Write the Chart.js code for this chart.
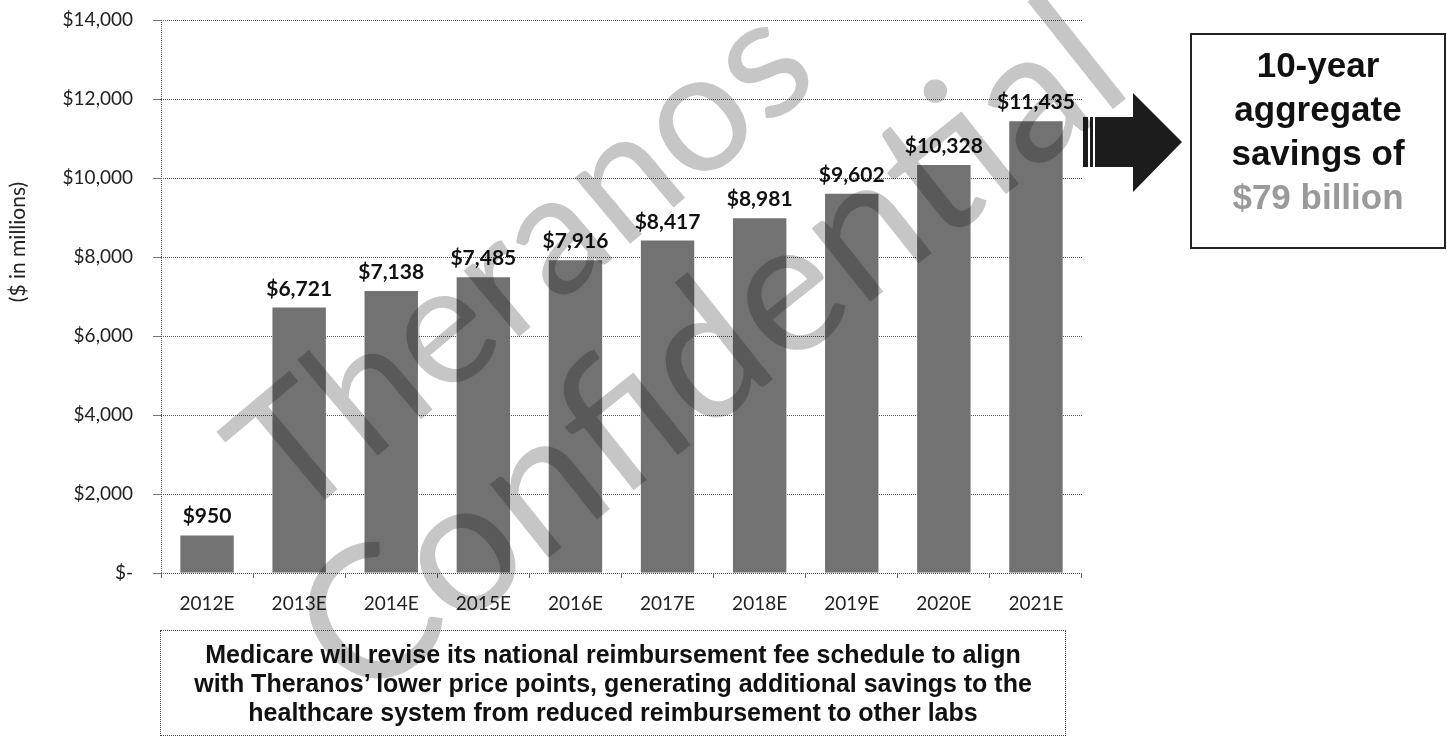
<!DOCTYPE html>
<html>
<head>
<meta charset="utf-8">
<script src="https://cdn.jsdelivr.net/npm/chart.js@4.4.1/dist/chart.umd.min.js"></script>
<style>
    body { margin: 0; background: #fff; }
    #wrap { position: relative; width: 1447px; height: 738px; overflow: hidden; }
    #chart { position: absolute; left: 0; top: 0; }
    .note {
        position: absolute;
        box-sizing: border-box;
        text-align: center;
        font-family: "Liberation Sans", Arial, sans-serif;
        font-weight: bold;
        color: #111;
    }
    #savingsBox {
        left: 1190px; top: 33px; width: 256px; height: 216px;
        border: 2px solid #222;
        font-size: 35px; line-height: 44px; padding-top: 8px;
    }
    #savingsBox .gray { color: #9a9a9a; }
    #medicareBox {
        left: 160px; top: 630px; width: 906px; height: 106px;
        border: 1px dotted #444;
        font-size: 25px; line-height: 29px; padding-top: 9px;
        white-space: nowrap;
    }
</style>
</head>
<body>
<div id="wrap">
    <canvas id="chart" width="1447" height="738"></canvas>
    <div class="note" id="savingsBox">10-year<br>aggregate<br>savings of<br><span class="gray">$79 billion</span></div>
    <div class="note" id="medicareBox">Medicare will revise its national reimbursement fee schedule to align<br>with Theranos’ lower price points, generating additional savings to the<br>healthcare system from reduced reimbursement to other labs</div>
</div>
<script>
// 数据
const years = ['2012E', '2013E', '2014E', '2015E', '2016E', '2017E', '2018E', '2019E', '2020E', '2021E'];
const savings = [950, 6721, 7138, 7485, 7916, 8417, 8981, 9602, 10328, 11435];
const yTickValues = [0, 2000, 4000, 6000, 8000, 10000, 12000, 14000];
const yTitle = '($ in millions)';
const watermarkWords = ['Theranos', 'Confidential'];

function money(v) {
    return v === 0 ? '$-' : '$' + v.toLocaleString('en-US');
}

// 柱子上方的数值
const barLabels = {
    id: 'barLabels',
    afterDatasetsDraw(chart) {
        const ctx = chart.ctx;
        const meta = chart.getDatasetMeta(0);
        ctx.save();
        ctx.font = 'bold 21px Lato';
        ctx.fillStyle = '#111';
        ctx.textAlign = 'center';
        ctx.textBaseline = 'alphabetic';
        meta.data.forEach((bar, i) => {
            ctx.fillText(money(savings[i]), bar.x, bar.y - 12);
        });
        ctx.restore();
    }
};

// y轴标题、右侧箭头、水印
const extras = {
    id: 'extras',
    afterDraw(chart) {
        const ctx = chart.ctx;
        ctx.save();
        ctx.fillStyle = '#222';
        ctx.font = '21px Lato';
        ctx.textAlign = 'center';
        ctx.textBaseline = 'middle';
        ctx.translate(18, 242);
        ctx.rotate(-Math.PI / 2);
        ctx.fillText(yTitle, 0, 0);
        ctx.restore();

        ctx.save();
        ctx.fillStyle = '#1c1c1c';
        ctx.fillRect(1083, 117, 5, 50);
        ctx.fillRect(1090, 117, 3, 50);
        ctx.beginPath();
        ctx.moveTo(1095, 117);
        ctx.lineTo(1133, 117);
        ctx.lineTo(1133, 93);
        ctx.lineTo(1182, 142);
        ctx.lineTo(1133, 192);
        ctx.lineTo(1133, 167);
        ctx.lineTo(1095, 167);
        ctx.closePath();
        ctx.fill();

        ctx.globalCompositeOperation = 'multiply';
        ctx.fillStyle = '#c6c6c6';
        ctx.textAlign = 'center';
        ctx.textBaseline = 'middle';
        const spots = [[523, 262, 170, -40], [711, 352, 186, -38.5]];
        watermarkWords.forEach((w, i) => {
            const [x, y, size, angle] = spots[i];
            ctx.save();
            ctx.font = size + 'px Lato';
            ctx.translate(x, y);
            ctx.rotate(angle * Math.PI / 180);
            ctx.fillText(w, 0, 0);
            ctx.restore();
        });
        ctx.restore();
    }
};

function drawChart() {
    new Chart(document.getElementById('chart'), {
        type: 'bar',
        data: {
            labels: years,
            datasets: [{
                data: savings,
                backgroundColor: '#727272',
                borderWidth: 0,
                categoryPercentage: 1,
                barPercentage: 0.58
            }]
        },
        options: {
            responsive: false,
            animation: false,
            layout: { padding: { left: 0, right: 365, top: 20, bottom: 0 } },
            plugins: { legend: { display: false }, tooltip: { enabled: false } },
            scales: {
                x: {
                    afterFit: (axis) => { axis.height = 165; },
                    grid: {
                        drawOnChartArea: true,
                        color: (c) => c.index === 0 ? '#555' : 'rgba(0,0,0,0)',
                        tickColor: '#666',
                        tickLength: 5
                    },
                    border: { display: false, dash: [1, 1] },
                    ticks: {
                        color: '#222',
                        padding: 14,
                        font: { family: 'Lato', size: 19 }
                    }
                },
                y: {
                    min: 0,
                    max: 14000,
                    afterFit: (axis) => { axis.width = 161; axis.paddingTop = 0; axis.paddingBottom = 0; },
                    afterBuildTicks: (axis) => { axis.ticks = yTickValues.map(v => ({ value: v })); },
                    grid: { color: '#555', tickLength: 8, tickColor: '#777' },
                    border: { display: false, dash: [1, 1] },
                    ticks: {
                        color: '#222',
                        padding: 20,
                        font: { family: 'Lato', size: 19 },
                        callback: (v) => money(v)
                    }
                }
            }
        },
        plugins: [barLabels, extras]
    });
}

Promise.all([
    document.fonts.load('19px Lato'),
    document.fonts.load('bold 21px Lato'),
    document.fonts.load('bold 21px "Liberation Sans"')
]).then(drawChart, drawChart);
</script>
</body>
</html>
